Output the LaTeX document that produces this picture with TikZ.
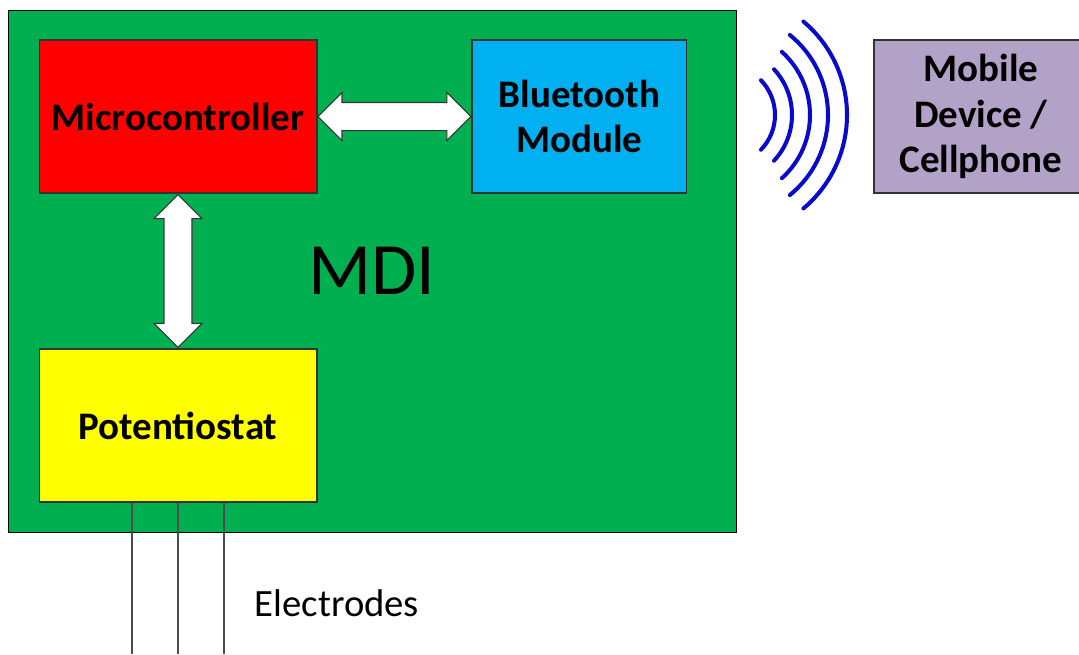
\documentclass[tikz,border=0pt]{standalone}
\usepackage{fontspec}
\setmainfont{Carlito}
\usepackage{tikz}
\usetikzlibrary{shapes.arrows,positioning,calc}
\definecolor{boardgreen}{HTML}{00B050}
\definecolor{mcured}{HTML}{FF0000}
\definecolor{btblue}{HTML}{00B0F0}
\definecolor{potyellow}{HTML}{FFFF00}
\definecolor{mobilepurple}{HTML}{B3A2C7}
\definecolor{waveblue}{HTML}{0A0ACC}
\tikzstyle{block} = [rectangle, draw=black!80, line width=0.6pt, minimum width=5.56cm, minimum height=3.06cm, align=center, inner sep=0pt, font=\fontsize{22.2}{26}\selectfont\bfseries]
\tikzstyle{fatarrow} = [double arrow, draw=black!80, fill=white, line width=0.6pt, double arrow head extend=0.2cm, inner xsep=0pt, inner ysep=0.27cm, minimum height=3.06cm]
\tikzstyle{wave} = [line width=2.3pt, draw=waveblue, line cap=round]
\tikzstyle{lead} = [line width=0.8pt, draw=black!70]

\begin{document}
\begin{tikzpicture}[x=0.02cm, y=-0.02cm]
    \useasboundingbox (0,0) rectangle (1079,654);
    \node[draw=black, fill=boardgreen, minimum width=14.56cm, minimum height=10.44cm, inner sep=0pt, font=\fontsize{42}{50}\selectfont] (board) at (372,271) {MDI};
    \node[block, fill=mcured] (mcu) at (178,116.5) {Microcontroller};
    \node[block, fill=btblue, minimum width=4.3cm, right=3.08cm of mcu] (bt) {Bluetooth\\Module};
    \node[block, fill=potyellow, below=3.1cm of mcu] (pot) {Potentiostat};
    \node[block, fill=mobilepurple, minimum width=4.28cm, right=3.72cm of bt] (mobile) {Mobile\\Device /\\Cellphone};

    \node[fatarrow] (hlink) at ($(mcu.east)!0.5!(bt.west)$) {};
    \node[fatarrow, rotate=90] (vlink) at ($(mcu.south)!0.5!(pot.north)$) {};

    % radio waves
    \coordinate (wave) at (725,115);
    \foreach \r/\a in {50/44, 67/43, 85/48, 103/51, 122/50}
        \draw[wave] ($(wave)+(-\a:\r)$) arc[start angle=-\a, end angle=\a, radius=\r];

    % electrode leads
    \foreach \x [count=\i] in {132,178,224} {
        \coordinate (end\i) at (\x,654);
        \draw[lead] (pot.south -| end\i) -- (end\i);
    }
    \node[font=\fontsize{22}{26}\selectfont] (elabel) at (337,603) {Electrodes};
\end{tikzpicture}
\end{document}
